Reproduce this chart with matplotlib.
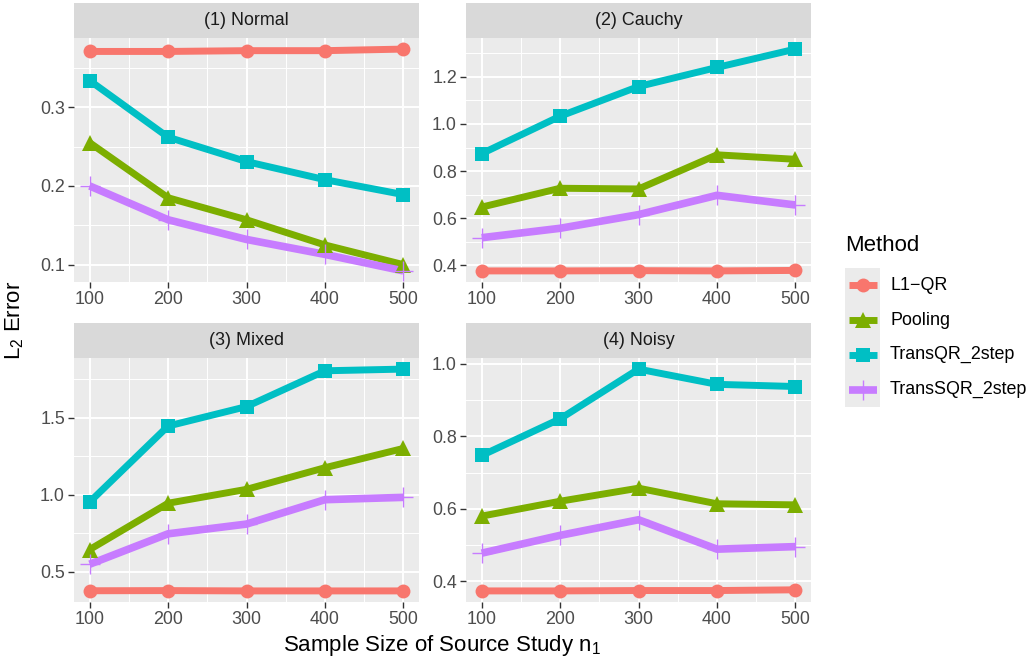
import matplotlib
matplotlib.use("Agg")
import matplotlib.pyplot as plt
from matplotlib.ticker import FixedLocator, FormatStrFormatter
import numpy as np

plt.rcParams['font.family'] = ['Liberation Sans', 'DejaVu Sans']
plt.rcParams['mathtext.default'] = 'regular'

# ---- data ------------------------------------------------------------------
sizes = [100, 200, 300, 400, 500]
methods = ['L1\u2212QR', 'Pooling', 'TransQR_2step', 'TransSQR_2step']
panel_titles = ['(1) Normal', '(2) Cauchy', '(3) Mixed', '(4) Noisy']

normal_l1qr = [0.371, 0.371, 0.372, 0.372, 0.374]
normal_pooling = [0.255, 0.185, 0.157, 0.125, 0.100]
normal_transqr = [0.334, 0.262, 0.231, 0.208, 0.189]
normal_transsqr = [0.200, 0.157, 0.132, 0.113, 0.092]

cauchy_l1qr = [0.376, 0.376, 0.377, 0.376, 0.378]
cauchy_pooling = [0.647, 0.727, 0.724, 0.869, 0.850]
cauchy_transqr = [0.874, 1.033, 1.159, 1.240, 1.318]
cauchy_transsqr = [0.517, 0.557, 0.615, 0.697, 0.656]

mixed_l1qr = [0.378, 0.379, 0.377, 0.377, 0.377]
mixed_pooling = [0.645, 0.945, 1.035, 1.175, 1.300]
mixed_transqr = [0.953, 1.445, 1.571, 1.803, 1.814]
mixed_transsqr = [0.550, 0.747, 0.810, 0.968, 0.983]

noisy_l1qr = [0.374, 0.374, 0.375, 0.375, 0.377]
noisy_pooling = [0.580, 0.621, 0.657, 0.614, 0.611]
noisy_transqr = [0.747, 0.848, 0.985, 0.943, 0.937]
noisy_transsqr = [0.478, 0.527, 0.570, 0.489, 0.496]

y_ticks = [[0.1, 0.2, 0.3], [0.4, 0.6, 0.8, 1.0, 1.2],
           [0.5, 1.0, 1.5], [0.4, 0.6, 0.8, 1.0]]

panels = [
    [normal_l1qr, normal_pooling, normal_transqr, normal_transsqr],
    [cauchy_l1qr, cauchy_pooling, cauchy_transqr, cauchy_transsqr],
    [mixed_l1qr, mixed_pooling, mixed_transqr, mixed_transsqr],
    [noisy_l1qr, noisy_pooling, noisy_transqr, noisy_transsqr],
]

# ---- styles ----------------------------------------------------------------
colors = ['#F8766D', '#7CAE00', '#00BFC4', '#C77CFF']
markers = ['o', '^', 's', '+']
msizes = [10, 11.5, 9.8, 15]
lwidths = [5, 5, 5, 5.5]
small = 12.9
big = 16

W, H = 1031, 661
fig = plt.figure(figsize=(W / 100, H / 100), dpi=100)

panel_px = [(74, 38), (466, 38), (74, 358), (466, 358)]  # left, top of plot area
pw, ph = 345, 244
strip_h = 35


def expand(lo, hi, frac=0.05):
    d = (hi - lo) * frac
    return lo - d, hi + d


for k, series in enumerate(panels):
    left, top = panel_px[k]
    ax = fig.add_axes([left / W, 1 - (top + ph) / H, pw / W, ph / H])
    ax.set_facecolor('#EBEBEB')
    for s in ax.spines.values():
        s.set_visible(False)

    for i, vals in enumerate(series):
        ax.plot(sizes, vals, color=colors[i], lw=lwidths[i],
                solid_capstyle='butt', zorder=3)
    for i, vals in enumerate(series):
        mew = 1.0 if markers[i] == '+' else 0
        ax.plot(sizes, vals, ls='none', marker=markers[i], ms=msizes[i],
                color=colors[i], mew=mew, zorder=4)

    allv = np.concatenate([np.asarray(v) for v in series])
    ax.set_ylim(*expand(allv.min(), allv.max()))
    ax.set_xlim(*expand(min(sizes), max(sizes)))

    ax.xaxis.set_major_locator(FixedLocator(sizes))
    ax.xaxis.set_minor_locator(FixedLocator([150, 250, 350, 450]))
    yt = y_ticks[k]
    ax.yaxis.set_major_locator(FixedLocator(yt))
    step = yt[1] - yt[0]
    yminor = [yt[0] - step / 2] + [t + step / 2 for t in yt]
    ax.yaxis.set_minor_locator(FixedLocator(yminor))
    ax.yaxis.set_major_formatter(FormatStrFormatter('%.1f'))

    ax.grid(which='major', color='white', lw=1.4, zorder=0)
    ax.grid(which='minor', color='white', lw=0.7, zorder=0)
    ax.set_axisbelow(True)
    ax.tick_params(which='major', length=4, width=1, color='#333333',
                   labelsize=small, labelcolor='#4D4D4D', pad=2.5)
    ax.tick_params(which='minor', length=0)

    sax = fig.add_axes([left / W, 1 - top / H, pw / W, strip_h / H])
    sax.set_facecolor('#D9D9D9')
    sax.set_xticks([])
    sax.set_yticks([])
    for s in sax.spines.values():
        s.set_visible(False)
    sax.text(0.5, 0.5, panel_titles[k], ha='center', va='center',
             fontsize=small, color='#1A1A1A', transform=sax.transAxes)

fig.text(15 / W, 1 - 320 / H, 'L$_2$ Error', rotation=90, ha='center',
         va='center', fontsize=big)
fig.text(442 / W, 1 - 645 / H, 'Sample Size of Source Study n$_1$',
         ha='center', va='center', fontsize=big)

# ---- legend ----------------------------------------------------------------
fig.text(845 / W, 1 - 245 / H, 'Method', ha='left', va='center', fontsize=big)
lax = fig.add_axes([845 / W, 1 - 407 / H, 35 / W, 139 / H])
lax.set_facecolor('#EBEBEB')
lax.set_xlim(0, 1)
lax.set_ylim(4, 0)
lax.set_xticks([])
lax.set_yticks([])
for s in lax.spines.values():
    s.set_visible(False)
for i, name in enumerate(methods):
    yc = i + 0.5
    lax.plot([0.1, 0.9], [yc, yc], color=colors[i], lw=lwidths[i],
             solid_capstyle='butt')
    mew = 1.0 if markers[i] == '+' else 0
    lax.plot([0.5], [yc], marker=markers[i], ms=msizes[i], color=colors[i],
             mew=mew, ls='none')
    fig.text(890 / W, 1 - (268 + 139 / 4 * yc) / H, name, ha='left',
             va='center', fontsize=small)

fig.savefig('out.png', dpi=100)
